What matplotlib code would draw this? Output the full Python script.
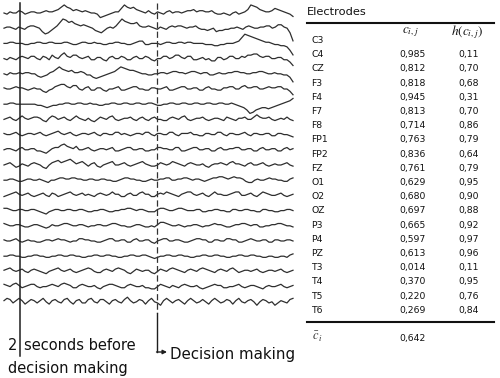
import numpy as np
import matplotlib
matplotlib.use("Agg")
import matplotlib.pyplot as plt

plt.rcParams['font.family'] = ['DejaVu Sans']
plt.rcParams['mathtext.fontset'] = 'stix'

# ---------------- data ----------------
electrodes = ["C3", "C4", "CZ", "F3", "F4", "F7", "F8", "FP1", "FP2", "FZ",
              "O1", "O2", "OZ", "P3", "P4", "PZ", "T3", "T4", "T5", "T6"]
c_vals = ["0,985", "0,812", "0,818", "0,945", "0,813", "0,714", "0,763", "0,836",
          "0,761", "0,629", "0,680", "0,697", "0,665", "0,597", "0,613", "0,014",
          "0,370", "0,220", "0,269"]
h_vals = ["0,11", "0,70", "0,68", "0,31", "0,70", "0,86", "0,79", "0,64",
          "0,79", "0,95", "0,90", "0,88", "0,92", "0,97", "0,96", "0,11",
          "0,95", "0,76", "0,84"]
c_mean = "0,642"

# EEG traces (deflections, left to right)
tr01 = [0,-1,1,0,0,2,1,-1,0,1,1,0,0,1,2,1,1,2,3,5,7,5,4,2,3,2,1,2,1,0,0,-1,-4,-3,-2,-1,0,1,1,4,7,5,4,5,3,2,1,0,2,0,-1,1,0,-1,1,2,0,1,1,0,1,2,2,3,1,2,2,1,1,2,0,-1,-1,0,-1,-2,0,1,-1,0,1,3,7,6,5,3,2,1,1,2,4,3,2,1,0,-1,-3]
tr02 = [0,1,1,0,-1,1,0,-1,1,2,2,1,0,-3,-5,-4,-2,0,2,5,8,7,5,6,4,3,2,3,2,1,0,-2,-3,-4,-2,0,1,0,2,5,8,6,5,4,4,5,2,1,1,2,1,0,-1,1,0,-1,1,2,1,2,2,1,0,1,1,2,0,-1,-1,-2,-1,0,-3,-2,-2,-1,-1,0,0,1,0,-1,1,2,1,0,0,1,1,2,2,0,1,3,3,1,0,-4,-11]
tr03 = [0,0,1,1,0,0,0,-1,-1,0,0,1,1,0,0,1,1,0,0,0,1,1,0,-1,-1,0,1,1,0,0,1,0,0,-1,-1,0,0,1,1,0,0,-1,-1,0,1,2,2,-1,-1,0,0,0,-1,0,1,1,0,0,1,1,0,1,1,0,0,0,0,-1,-1,-1,-2,-2,-1,-1,0,0,0,1,2,5,8,7,6,5,4,3,2,1,1,0,-1,-1,-2,-2,-3,-6,-10]
tr04 = [0,-1,1,0,-1,1,2,1,0,2,2,0,-1,2,1,-1,3,1,0,3,5,2,1,3,3,1,0,1,2,-1,-1,1,1,-1,-2,1,2,0,0,2,1,-1,-1,1,2,0,0,2,1,-1,-2,0,0,2,2,0,1,3,3,1,0,2,2,-1,-1,0,1,-1,0,-2,-2,1,1,-1,0,2,2,0,0,2,1,3,3,4,4,2,1,2,2,0,0,1,1,-1,-1,-3,-6]
tr05 = [0,-1,1,0,0,1,0,1,1,0,0,-2,-3,-2,-1,1,2,4,6,4,3,2,3,1,1,2,1,-1,-1,-3,-4,-3,-2,-1,0,1,2,4,6,5,4,3,3,2,1,0,0,-1,-1,0,0,1,1,0,1,2,2,1,1,0,1,2,2,1,0,1,1,-1,-1,0,1,0,0,1,1,2,2,1,1,0,0,1,1,2,2,1,0,0,1,0,0,-1,-1,-3,-7]
tr06 = [1,0,0,1,2,1,1,0,-1,0,1,0,0,-2,-3,-1,0,2,3,4,4,2,1,3,3,0,-1,1,2,-1,-1,1,1,-1,-2,0,0,1,2,-1,-1,0,1,2,2,0,0,-1,-1,1,1,0,0,1,2,-1,-1,0,1,2,2,0,0,1,1,-1,-1,1,2,0,0,-1,-1,1,1,2,2,0,0,2,3,1,1,2,2,0,0,1,2,1,1,2,2,0,0,-2,-5]
tr07 = [0,0,1,1,0,0,0,0,0,0,0,-1,-1,-2,-3,-2,-1,-1,0,0,1,1,0,0,1,1,0,0,1,0,0,-1,-1,0,0,1,1,0,0,1,1,0,0,1,1,0,0,1,1,0,-1,-1,0,0,1,1,0,0,1,1,0,0,1,1,0,0,1,1,0,0,1,1,0,0,1,0,-1,-2,-3,-5,-8,-7,-5,-4,-3,-3,-4,-3,-2,-1,0,1,2,3,5]
tr08 = [0,1,2,0,-1,1,3,1,0,1,2,2,1,-1,-2,1,3,2,0,1,2,0,-1,1,3,1,0,-1,1,-1,-2,0,2,1,0,2,3,0,-1,0,1,1,2,0,-1,1,2,0,-1,1,2,0,0,-1,-1,1,2,1,0,2,3,0,-1,0,1,1,2,0,-1,0,1,1,0,-1,2,1,0,-1,1,1,2,0,0,2,4,2,1,1,2,0,-1,0,1,0,2,0,-1]
tr09 = [1,0,0,1,2,0,-1,0,1,1,0,1,2,0,-1,0,1,2,3,1,0,1,2,0,-1,0,1,1,0,1,2,0,-1,1,1,0,0,2,2,0,1,0,-1,0,1,1,0,2,2,0,-1,1,1,0,0,2,2,0,-1,1,1,1,2,0,0,-1,-1,1,1,0,0,2,2,0,-1,1,1,0,0,1,2,0,-1,1,1,0,0,1,1,-1,-1,1,1,0,0,-1,-2]
tr10 = [0,1,1,0,-1,1,2,0,0,1,1,-1,-1,-2,-3,-1,1,2,2,4,5,3,2,1,3,0,0,1,2,0,-1,0,1,1,0,1,2,-1,-1,0,1,2,2,0,0,1,1,-1,-1,0,0,2,2,1,1,0,0,2,2,-1,-1,0,1,2,2,0,0,1,1,-1,-1,1,2,0,0,1,1,2,2,0,0,1,1,-1,-1,1,2,0,0,1,1,-1,-1,1,2,0,1]
tr11 = [0,1,2,0,-2,-1,1,0,-1,1,2,1,0,-2,-3,0,2,3,4,2,3,4,5,3,1,2,3,1,-1,1,2,-1,-2,0,1,2,3,0,0,1,2,0,-1,0,1,2,3,1,0,-1,-1,0,2,1,0,1,3,2,1,0,-1,1,2,1,0,0,1,-1,-2,0,1,1,2,1,0,2,3,1,1,0,-1,1,2,0,0,1,2,0,-1,0,1,0,0,1,2,0,-1]
tr12 = [0,0,1,1,0,-1,-1,0,1,1,0,0,1,0,-1,-2,0,0,1,2,2,1,1,2,2,1,1,0,0,1,1,0,0,1,1,0,0,-1,-1,0,1,2,2,1,1,0,0,-1,-1,0,1,0,0,1,1,2,2,0,0,1,1,2,2,1,0,1,1,0,-1,0,1,2,2,3,3,2,1,2,3,2,2,1,-1,-2,-2,0,1,0,0,1,2,1,1,0,0,-1,-1,1,2]
tr13 = [-1,0,1,2,3,1,0,1,2,0,-1,0,1,2,0,-1,2,1,-1,0,1,2,3,1,0,1,2,0,1,0,-1,1,2,1,0,1,3,1,1,-1,-1,1,2,0,0,2,3,1,1,-1,-1,1,2,1,3,2,1,0,-1,1,2,3,3,1,0,1,2,0,-1,1,3,1,1,0,0,1,2,3,3,0,0,1,2,0,-1,1,3,2,1,0,0,1,2,0,-1,0,1]
tr14 = [2,2,1,0,0,1,1,0,0,1,1,0,-1,-2,-3,-1,0,1,1,0,0,1,1,0,0,1,1,0,-1,-1,0,0,1,1,0,-1,-1,0,0,1,1,2,2,1,0,1,1,0,-1,-1,-1,1,2,2,1,0,0,1,2,2,1,0,0,0,1,1,-1,-1,0,0,1,1,0,0,-1,-1,1,1,0,0,1,1,0,0,-1,-1,1,1,0,0,-1,-1,0,0,1,1,0]
tr15 = [2,1,0,0,1,1,0,-1,-1,0,1,1,0,-1,-2,-1,1,0,0,1,2,2,1,0,0,1,1,0,-1,0,0,1,1,0,0,1,2,2,1,0,0,-1,-1,0,1,1,0,-1,-1,0,-1,1,3,3,2,1,0,0,1,0,-1,0,0,1,1,0,-1,0,0,1,2,1,1,0,-1,-1,0,1,1,2,2,1,0,1,1,-1,-1,0,0,1,1,2,2,1,0,0,-1]
tr16 = [1,0,0,1,2,0,-1,0,1,0,0,-1,-1,0,1,1,0,1,2,1,1,0,-1,0,0,2,2,1,1,0,0,-1,-1,0,1,2,2,0,0,1,1,-1,-1,1,2,0,0,1,1,-1,-2,0,1,2,2,0,0,1,1,0,-1,-1,0,1,2,2,1,1,-1,-1,1,1,0,0,2,2,1,1,-1,-1,0,1,2,1,0,0,1,1,-1,-1,1,1,0,0,1,1,0]
tr17 = [0,0,1,1,0,0,-1,-1,0,0,1,1,0,0,-1,-1,0,0,1,1,0,0,1,1,0,0,-1,-1,0,0,1,1,0,0,1,1,0,0,-1,-1,0,0,1,1,0,0,1,1,0,-1,-2,-1,0,0,1,1,0,0,1,1,0,0,-1,-1,0,0,1,1,0,0,1,1,0,0,-1,-1,0,0,1,1,0,0,1,1,0,0,-1,-1,0,0,-1,-1,0,0,-1,1,2]
tr18 = [1,2,3,1,0,1,2,0,-1,1,2,1,0,-1,-2,0,1,2,3,1,0,1,2,0,-1,0,1,2,3,2,0,-1,-1,1,2,1,0,2,3,2,1,-1,-2,0,2,1,0,1,1,-1,-2,0,2,1,0,2,3,2,1,0,-1,1,2,1,0,2,3,2,1,0,-1,1,2,1,0,2,3,1,-1,0,1,1,0,1,2,0,-1,0,1,1,0,1,2,0,-1,0,1]
tr19 = [2,1,0,2,3,1,-1,0,1,2,2,0,-1,0,0,1,2,1,0,2,3,2,1,-1,-1,1,2,1,0,0,1,-1,-2,0,1,2,2,1,0,-1,-1,1,2,1,0,0,1,-1,-1,-2,-2,0,2,1,0,-1,1,0,-1,1,2,1,0,0,1,-1,-2,-1,0,1,2,1,1,-1,-1,0,0,1,2,0,-1,0,1,1,0,-1,-2,0,1,0,0,1,2,0,-1,0,1]
tr20 = [1,3,2,-1,1,3,1,-2,0,2,1,-1,1,3,0,-2,1,2,0,-1,2,3,0,-2,1,2,-1,-1,2,3,0,-1,2,2,0,-2,1,2,0,-1,2,4,1,-1,0,2,1,-2,1,3,0,-1,-3,1,3,1,-1,1,2,0,-2,1,3,1,-1,0,2,0,-2,1,3,1,-1,0,2,1,-2,1,3,0,-1,1,2,0,-3,0,2,1,-1,0,-3,-1,1,0,-1,2,3]

traces = [tr01, tr02, tr03, tr04, tr05, tr06, tr07, tr08, tr09, tr10,
          tr11, tr12, tr13, tr14, tr15, tr16, tr17, tr18, tr19, tr20]

# ---------------- figure ----------------
fig = plt.figure(figsize=(5.0, 3.78), dpi=100)
ax = fig.add_axes([0, 0, 1, 1])
ax.set_xlim(0, 500)
ax.set_ylim(378, 0)
ax.axis('off')

base0, step, gain = 13.0, 15.2, 1.15
for i, tr in enumerate(traces):
    t = np.linspace(4, 293, len(tr))
    ax.plot(t, base0 + i * step - gain * np.asarray(tr, float),
            color='#2e2e2e', lw=0.9, solid_joinstyle='round')

# event markers
ax.plot([20, 20], [3, 356], color='#1e1e1e', lw=1.1)
ax.plot([157, 157], [3, 313], color='#333333', lw=0.9, dashes=(5, 2.5))
ax.plot([157, 157], [313, 352], color='#1e1e1e', lw=1.0)
ax.annotate('', xy=(167, 352), xytext=(156.5, 352),
            arrowprops=dict(arrowstyle='-|>', color='#1e1e1e', lw=1.0,
                            mutation_scale=6, shrinkA=0, shrinkB=0))

ax.text(8, 346, '2', fontsize=10.5, va='center', ha='left', color='#111111')
ax.text(24, 346, 'seconds before', fontsize=10.5, va='center', ha='left', color='#111111')
ax.text(8, 368, 'decision making', fontsize=10.5, va='center', ha='left', color='#111111')
ax.text(170, 354, 'Decision making', fontsize=10.8, va='center', ha='left', color='#111111')

# ---------------- table ----------------
ax.text(307, 12, 'Electrodes', fontsize=8.2, va='center', ha='left', color='#111111')
ax.plot([307, 494], [22.5, 22.5], color='#111111', lw=1.5)
ax.text(410, 32, r'$c_{i,j}$', fontsize=9.5, va='center', ha='center', color='#111111')
ax.text(467, 32, r'$h(c_{i,j})$', fontsize=9.5, va='center', ha='center', color='#111111')

row0, rstep = 40.5, 14.2
for i, e in enumerate(electrodes):
    ax.text(311, row0 + i * rstep, e, fontsize=6.7, va='center', ha='left', color='#111111')
for i, (c, h) in enumerate(zip(c_vals, h_vals)):
    y = row0 + (i + 1) * rstep
    ax.text(399, y, c, fontsize=6.7, va='center', ha='left', color='#111111')
    ax.text(458, y, h, fontsize=6.7, va='center', ha='left', color='#111111')

ax.plot([307, 494], [322, 322], color='#111111', lw=1.5)
ax.text(312, 337, r'$\bar{c}_{\,i}$', fontsize=9, va='center', ha='left', color='#333333')
ax.text(399, 338, c_mean, fontsize=6.7, va='center', ha='left', color='#111111')

fig.savefig('out.png', dpi=100)
